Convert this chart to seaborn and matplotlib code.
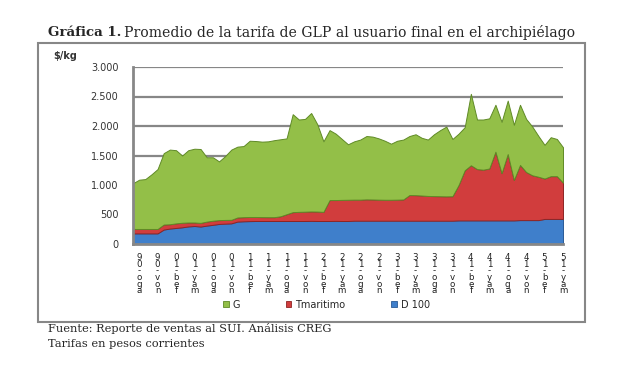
import numpy as np
import pandas as pd
import matplotlib
matplotlib.use("Agg")
import matplotlib.pyplot as plt
import seaborn as sns
from matplotlib.patches import Rectangle, Patch

# monthly series, jul-09 .. may-15 ($/kg)
d100 = [180, 180, 180, 180, 180, 245, 262, 272, 283, 298, 305, 296, 312, 325, 340, 345, 350, 380, 385, 388,
        390, 390, 390, 390, 390, 390, 390, 390, 390, 392, 390, 390, 390, 392, 390, 390,
        395, 395, 395, 395, 395, 395, 395, 395, 395, 395, 395, 395, 395, 395, 395, 395, 395,
        400, 400, 400, 400, 400, 400, 400, 400, 400, 400,
        405, 405, 405, 405, 425, 425, 425, 425]
tmar = [75, 75, 75, 75, 75, 85, 73, 78, 77, 67, 60, 62, 68, 70, 65, 63, 60, 70, 70, 70,
        68, 66, 65, 65, 80, 115, 150, 155, 158, 160, 160, 155, 355, 353, 358, 360,
        357, 357, 362, 360, 357, 355, 355, 357, 360, 435, 433, 427, 420, 417, 415, 413, 415,
        600, 850, 935, 870, 860, 880, 1165, 800, 1125, 685,
        935, 815, 760, 735, 685, 725, 725, 615]
g = [775, 835, 845, 925, 1015, 1210, 1265, 1240, 1140, 1225, 1250, 1252, 1090, 1075, 995, 1082, 1190, 1200, 1205, 1292,
     1287, 1279, 1285, 1305, 1305, 1285, 1660, 1565, 1572, 1668, 1480, 1195, 1185, 1125, 1032, 940,
     988, 1018, 1073, 1065, 1038, 1000, 950, 998, 1015, 1000, 1032, 978, 955, 1048, 1120, 1182, 970,
     870, 730, 1210, 840, 850, 850, 795, 870, 905, 935,
     1020, 900, 825, 690, 570, 660, 630, 600]

series_names = ["D 100", "Tmaritimo", "G"]
tick_labels = ["ago-09", "nov-09", "feb-10", "may-10", "ago-10", "nov-10", "feb-11", "may-11",
               "ago-11", "nov-11", "feb-12", "may-12", "ago-12", "nov-12", "feb-13", "may-13",
               "ago-13", "nov-13", "feb-14", "may-14", "ago-14", "nov-14", "feb-15", "may-15"]

months = pd.date_range("2009-07-01", periods=len(d100), freq="MS")
x = np.arange(len(months))

sns.set_style("white")
plt.rcParams['font.family'] = ['DejaVu Sans']

colors = ["#3f7fcb", "#d13d3d", "#93bf48"]
edges = ["#2a5a96", "#8e2424", "#5f8a26"]
gray = "#878787"

fig = plt.figure(figsize=(6.24, 3.69), dpi=100)
ax = fig.add_axes([133 / 624, 1 - 244 / 369, 430 / 624, 177 / 369])

polys = ax.stackplot(x, d100, tmar, g, colors=colors, linewidth=0.7)
for p, ec in zip(polys, edges):
    p.set_edgecolor(ec)

ax.set_xlim(0, len(x) - 1)
ax.set_ylim(0, 3000)
ax.set_yticks(range(0, 3001, 500))
ax.set_yticklabels([f"{v:,.0f}".replace(",", ".") for v in range(0, 3001, 500)],
                   fontsize=7, color="#333333")
ax.yaxis.grid(True, color=gray, lw=1.6)
ax.set_axisbelow(True)

ax.set_xticks(x[1::3])
ax.set_xticklabels(["\n".join(reversed(t)) for t in tick_labels],
                   fontsize=6.3, linespacing=0.66, va="top", color="#222222")
ax.set_xticks(x, minor=True)
ax.tick_params(axis="x", which="both", length=3.5, width=1.2, color=gray, pad=3)
ax.tick_params(axis="y", length=4.5, width=1.4, color=gray, pad=6)

for s in ["top", "right"]:
    ax.spines[s].set_visible(False)
for s in ["left", "bottom"]:
    ax.spines[s].set_color(gray)
    ax.spines[s].set_linewidth(2)

ax.text((77 - 133) / 430, 1.06, "\\$/kg", transform=ax.transAxes, fontsize=7, fontweight="bold",
        color="#333333", ha="right", va="center")

# legend
handles = [Patch(facecolor=colors[i], edgecolor=edges[i], lw=0.6) for i in [2, 1, 0]]
fig.legend(handles, [series_names[i] for i in [2, 1, 0]], loc="center",
           bbox_to_anchor=(0.523, 1 - 304.5 / 369), ncol=3, frameon=False, fontsize=7,
           handlelength=0.6, handleheight=0.6, columnspacing=4.7, handletextpad=0.4)

# chart frame
fig.add_artist(Rectangle((38 / 624, 1 - 322 / 369), (585 - 38) / 624, (322 - 43) / 369,
                         transform=fig.transFigure, fill=False, ec=gray, lw=1.5))

# title: bold part + regular part
renderer = fig.canvas.get_renderer()
t1 = fig.text(48 / 624, 1 - 33 / 369, "Gráfica 1.", family="DejaVu Serif", fontsize=9.6,
              fontweight="bold", va="center", ha="left")
bb = t1.get_window_extent(renderer)
fig.text(bb.x1 / 624 + 0.005, 1 - 33 / 369,
         "Promedio de la tarifa de GLP al usuario final en el archipiélago",
         family="DejaVu Serif", fontsize=10.1, va="center", ha="left")

fig.text(48 / 624, 1 - 329 / 369, "Fuente: Reporte de ventas al SUI. Análisis CREG",
         family="DejaVu Serif", fontsize=8.2, va="center", ha="left")
fig.text(48 / 624, 1 - 344 / 369, "Tarifas en pesos corrientes",
         family="DejaVu Serif", fontsize=8.2, va="center", ha="left")

fig.savefig("out.png", dpi=100)
